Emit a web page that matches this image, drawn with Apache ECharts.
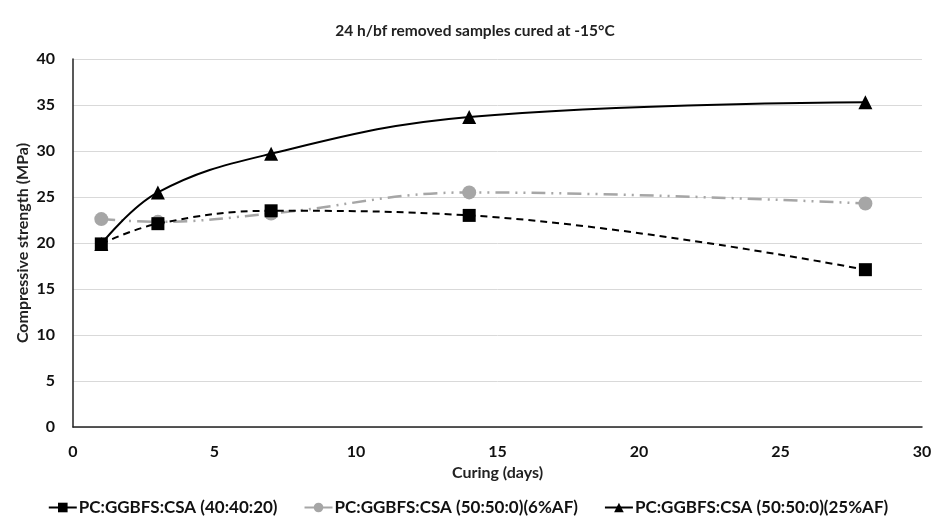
<!DOCTYPE html>
<html><head><meta charset="utf-8">
<script src="https://cdn.jsdelivr.net/npm/echarts@6/dist/echarts.min.js"></script>
<style>html,body{margin:0;padding:0;background:#fff}#c{width:936px;height:528px}</style>
</head><body><div id="c"></div>
<script>
const days = [1, 3, 7, 14, 28];
const s1Name = 'PC:GGBFS:CSA (40:40:20)';
const s2Name = 'PC:GGBFS:CSA (50:50:0)(6%AF)';
const s3Name = 'PC:GGBFS:CSA (50:50:0)(25%AF)';
const s1 = [19.9, 22.1, 23.5, 23.0, 17.1];
const s2 = [22.6, 22.3, 23.2, 25.5, 24.3];
const s3 = [19.9, 25.5, 29.7, 33.7, 35.3];
const xTicks = [0, 5, 10, 15, 20, 25, 30];
const yTicks = [0, 5, 10, 15, 20, 25, 30, 35, 40];

const font = 'Lato, "Open Sans", sans-serif';
const pair = (vals) => days.map((d, i) => [d, vals[i]]);
const chart = echarts.init(document.getElementById('c'));
chart.setOption({
  animation: false,
  title: { text: '24 h/bf removed samples cured at -15°C', left: 470, top: 18, textAlign: 'center',
    textStyle: { fontFamily: font, fontWeight: 'bold', fontSize: 15.5, color: '#222' } },
  grid: { left: 73, right: 14, top: 59, bottom: 101 },
  legend: { bottom: 7, left: 'center', itemWidth: 28, itemHeight: 12, itemGap: 26,
    lineStyle: { type: 'solid' },
    textStyle: { fontFamily: font, fontWeight: 'bold', fontSize: 17, color: '#111', padding: [0, 0, 0, -3] },
    data: [s1Name, s2Name, s3Name] },
  xAxis: { type: 'value', min: xTicks[0], max: xTicks[xTicks.length - 1], interval: 5,
    name: 'Curing (days)', nameLocation: 'middle', nameGap: 38,
    nameTextStyle: { fontFamily: font, fontWeight: 'bold', fontSize: 16, color: '#222' },
    axisLine: { show: true, lineStyle: { color: '#222', width: 1.5 } }, axisTick: { show: false },
    axisLabel: { fontFamily: font, fontWeight: 'bold', fontSize: 16, color: '#111', margin: 17 },
    splitLine: { show: false } },
  yAxis: { type: 'value', min: yTicks[0], max: yTicks[yTicks.length - 1], interval: 5,
    name: 'Compressive strength (MPa)', nameLocation: 'middle', nameGap: 42, nameMoveOverlap: false,
    nameTextStyle: { fontFamily: font, fontWeight: 'bold', fontSize: 16, color: '#222' },
    axisLine: { show: true, lineStyle: { color: '#222', width: 1.5 } }, axisTick: { show: false },
    axisLabel: { fontFamily: font, fontWeight: 'bold', fontSize: 16, color: '#111', margin: 18 },
    splitLine: { show: true, lineStyle: { color: '#d9d9d9', width: 1 } } },
  series: [
    { name: s1Name, type: 'line', data: pair(s1), smooth: 0.4, symbol: 'rect', symbolSize: 13,
      lineStyle: { color: '#000', width: 2, type: [7, 5] }, itemStyle: { color: '#000' }, z: 3 },
    { name: s2Name, type: 'line', data: pair(s2), smooth: 0.4, symbol: 'circle', symbolSize: 14,
      lineStyle: { color: '#a6a6a6', width: 2.5, type: [14, 6, 2, 6, 2, 6] }, itemStyle: { color: '#a6a6a6' }, z: 2 },
    { name: s3Name, type: 'line', data: pair(s3), smooth: 0.4, symbol: 'triangle', symbolSize: 14,
      lineStyle: { color: '#000', width: 2 }, itemStyle: { color: '#000' }, z: 4 }
  ]
});
</script></body></html>
